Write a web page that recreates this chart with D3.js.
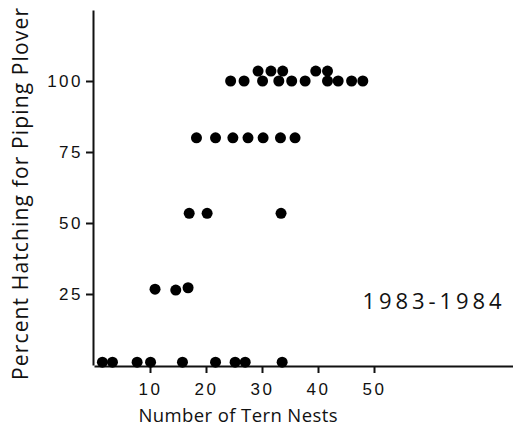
<!DOCTYPE html>
<html>
<head>
<meta charset="utf-8">
<script src="https://cdn.jsdelivr.net/npm/d3@7"></script>
<style>
  body { margin: 0; background: #fff; }
  svg { display: block; font-family: "Open Sans", Lato, sans-serif; }
  .axis path, .axis line { stroke: #111; stroke-width: 2; }
  .axis text { font-size: 17px; fill: #111; letter-spacing: 2.5px; }
</style>
</head>
<body>
<div id="chart"></div>
<script>
// tern nests (x) and percent hatching (y), one dot each
var nests = [
  1.5, 3.3, 7.7, 10.1, 15.8, 21.7, 25.2, 27.0, 33.6,
  10.9, 14.6, 16.8,
  17.0, 20.2, 33.4,
  18.3, 21.7, 24.8, 27.5, 30.2, 33.3, 35.9,
  24.4, 26.8, 30.1, 33.0, 35.3, 37.7, 41.7, 43.6, 46.0, 48.0,
  29.3, 31.6, 33.7, 39.6, 41.7
];
var hatching = [
  1, 1, 1, 1, 1, 1, 1, 1, 1,
  26.7, 26.4, 27.2,
  53.4, 53.4, 53.4,
  80, 80, 80, 80, 80, 80, 80,
  100, 100, 100, 100, 100, 100, 100, 100, 100, 100,
  103.5, 103.5, 103.5, 103.5, 103.5
];
var xTicks = [10, 20, 30, 40, 50];
var yTicks = [25, 50, 75, 100];
var yearLabel = "1983-1984";

var width = 513, height = 433;

var svg = d3.select("#chart").append("svg")
  .attr("width", width)
  .attr("height", height);

var xScale = d3.scaleLinear()
  .domain([0, 75])
  .range([94, 514]);

var yScale = d3.scaleLinear()
  .domain([0, 125])
  .range([365, 10]);

var xAxis = d3.axisBottom(xScale)
  .tickValues(xTicks)
  .tickSize(7)
  .tickSizeOuter(0)
  .tickPadding(10);

var yAxis = d3.axisLeft(yScale)
  .tickValues(yTicks)
  .tickSize(7)
  .tickSizeOuter(0)
  .tickPadding(3);

svg.append("g")
  .attr("class", "axis")
  .attr("transform", "translate(0, 366)")
  .call(xAxis);

svg.append("g")
  .attr("class", "axis")
  .attr("transform", "translate(93, 0)")
  .call(yAxis);

// dots
var points = nests.map((n, i) => ({x: n, y: hatching[i]}));
svg.selectAll("circle.dot")
  .data(points)
  .enter()
  .append("circle")
  .attr("class", "dot")
  .attr("cx", d => xScale(d.x))
  .attr("cy", d => yScale(d.y))
  .attr("r", 5.5)
  .attr("fill", "#000");

// axis titles
svg.append("text")
  .attr("x", 238)
  .attr("y", 422)
  .attr("text-anchor", "middle")
  .attr("font-size", "18.5px")
  .attr("fill", "#111")
  .attr("textLength", 199)
  .text("Number of Tern Nests");

svg.append("text")
  .attr("transform", "translate(28, 194) rotate(-90)")
  .attr("text-anchor", "middle")
  .attr("font-size", "21px")
  .attr("fill", "#111")
  .attr("textLength", 372)
  .text("Percent Hatching for Piping Plover");

svg.append("text")
  .attr("x", 432)
  .attr("y", 309)
  .attr("text-anchor", "middle")
  .attr("font-size", "22px")
  .attr("fill", "#111")
  .attr("textLength", 139)
  .text(yearLabel);
</script>
</body>
</html>
